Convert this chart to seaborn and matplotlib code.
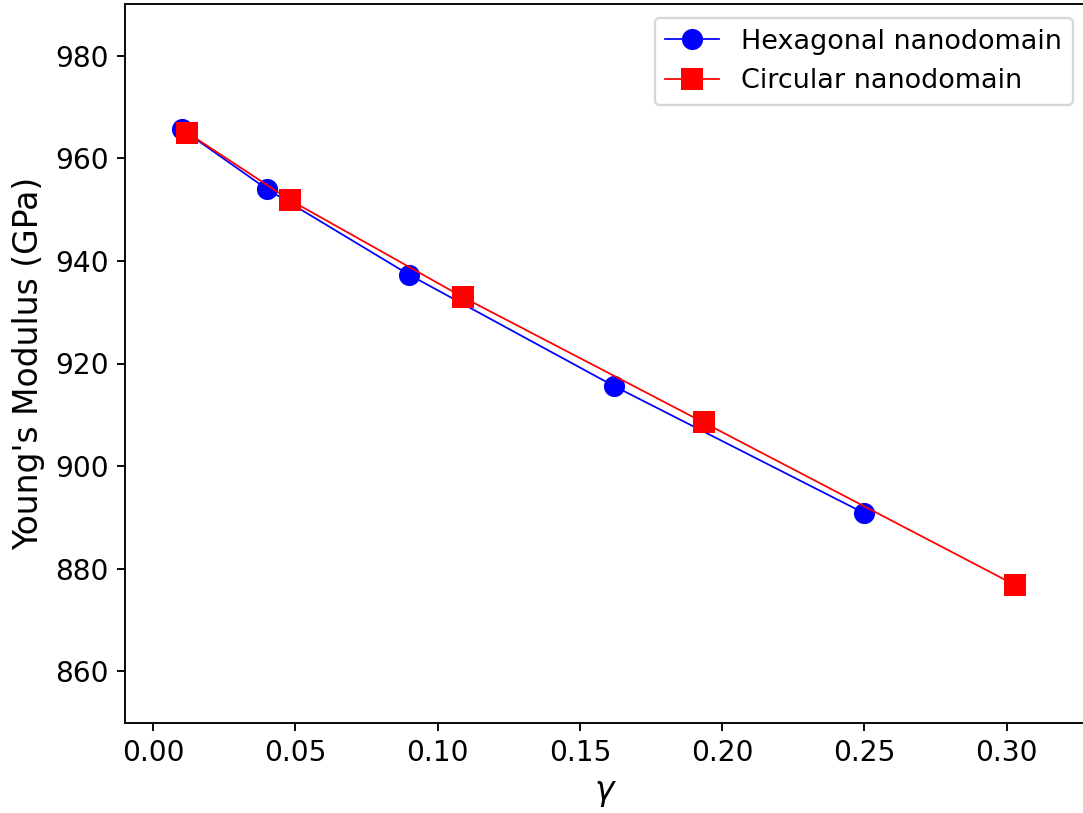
import matplotlib
matplotlib.use("Agg")
import matplotlib.pyplot as plt
import seaborn as sns
import pandas as pd

hex_gamma = [0.010, 0.040, 0.090, 0.162, 0.250]
hex_modulus = [965.7, 954.0, 937.3, 915.6, 890.8]
circ_gamma = [0.012, 0.048, 0.109, 0.1935, 0.303]
circ_modulus = [965.0, 951.9, 932.9, 908.5, 876.8]

plt.rcParams['font.family'] = ['DejaVu Sans']
plt.rcParams['font.size'] = 12

dpi = 169
fig = plt.figure(figsize=(1083 / dpi, 813 / dpi), dpi=dpi)
ax = fig.add_axes([125 / 1083, 1 - 722.5 / 813, 1.0 - 125 / 1083 + 0.003, (722.5 - 4.5) / 813])

df_h = pd.DataFrame({"g": hex_gamma, "E": hex_modulus})
df_c = pd.DataFrame({"g": circ_gamma, "E": circ_modulus})

sns.lineplot(data=df_h, x="g", y="E", ax=ax, color="blue", marker="o", markersize=9,
             markeredgecolor="blue", markeredgewidth=0, linewidth=0.75, sort=False,
             label="Hexagonal nanodomain")
sns.lineplot(data=df_c, x="g", y="E", ax=ax, color="red", marker="s", markersize=9,
             markeredgecolor="red", markeredgewidth=0, linewidth=0.75, sort=False,
             label="Circular nanodomain")

ax.set_xlim(-0.0099, 0.328)
ax.set_ylim(850, 990)
ax.set_xticks([0.0, 0.05, 0.10, 0.15, 0.20, 0.25, 0.30])
ax.set_xticklabels(["0.00", "0.05", "0.10", "0.15", "0.20", "0.25", "0.30"])
ax.set_yticks([860, 880, 900, 920, 940, 960, 980])
ax.set_xlabel(r"$\gamma$", fontsize=14)
ax.set_ylabel("Young's Modulus (GPa)", fontsize=14)
ax.legend(loc="upper right", fontsize=11.5)

fig.savefig("out.png", dpi=dpi)
